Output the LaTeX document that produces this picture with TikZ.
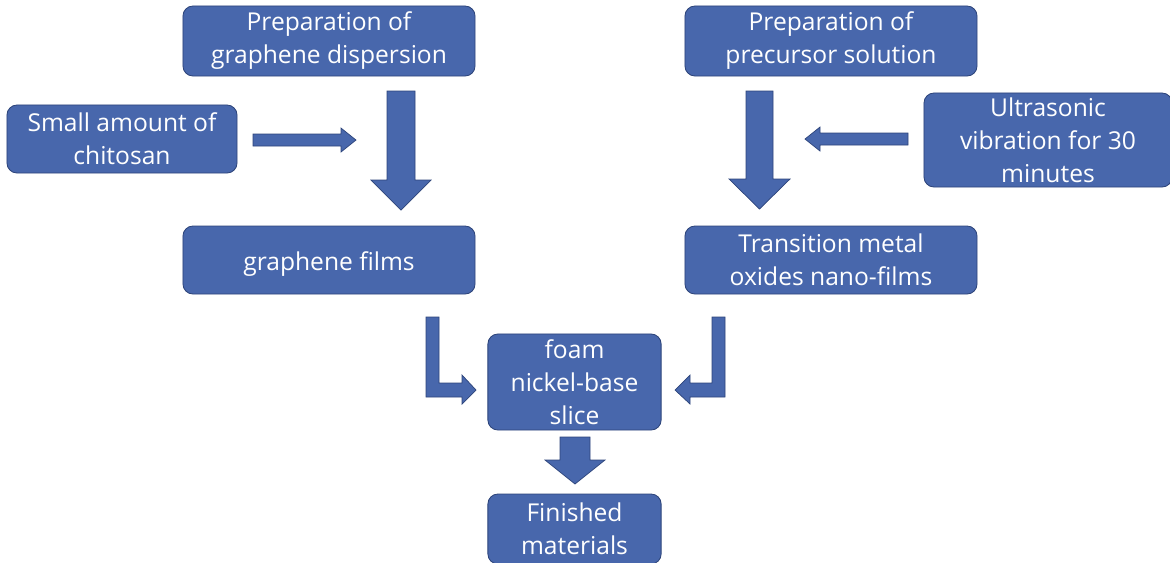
\documentclass[tikz,border=0pt]{standalone}
\usepackage{fontspec}
\setmainfont{Open Sans}
\begin{document}
\begin{tikzpicture}[x=0.025cm,y=-0.025cm]
        % Colori e stili
        \definecolor{boxblue}{RGB}{72,103,172}
        \definecolor{edgeblue}{RGB}{45,68,122}
        \tikzset{
            stepbox/.style={draw=edgeblue, fill=boxblue, rounded corners=0.25cm, text=white,
                align=center, font=\fontsize{17.5}{23.5}\selectfont, inner sep=0pt, line width=0.6pt,
                execute at begin node={\rule{0pt}{19pt}}},
            blockarrow/.style={draw=edgeblue, fill=boxblue, line width=0.5pt}
        }
        \useasboundingbox (0,0) rectangle (1170,562);

        % Riquadri in alto
        \node[stepbox, minimum width=7.3cm, minimum height=1.75cm] (graphdisp) at (329,41) {Preparation of\\graphene dispersion};
        \node[stepbox, minimum width=7.3cm, minimum height=1.75cm] (precsol) at (831,41) {Preparation of\\precursor solution};

        % Additivi laterali
        \node[stepbox, minimum width=5.75cm, minimum height=1.7cm] (chitosan) at (122,139) {Small amount of\\chitosan};
        \node[stepbox, minimum width=6.2cm, minimum height=2.35cm] (ultrasonic) at (1048,140) {Ultrasonic\\vibration for 30\\minutes};

        % Film
        \node[stepbox, minimum width=7.3cm, minimum height=1.7cm] (graphfilm) at (329,260) {graphene films};
        \node[stepbox, minimum width=7.3cm, minimum height=1.7cm] (oxfilm) at (831,260) {Transition metal\\oxides nano-films};

        % Base e prodotto finale
        \node[stepbox, minimum width=4.33cm, minimum height=2.4cm] (foam) at (574.5,382) {foam\\nickel-base\\slice};
        \node[stepbox, minimum width=4.33cm, minimum height=1.75cm] (finished) at (574.5,529) {Finished\\materials};

        % Frecce grandi verso il basso
        \draw[blockarrow] (387,91) -- (415,91) -- (415,180) -- (431,180) -- (401,210) -- (371,180) -- (387,180) -- cycle;
        \draw[blockarrow] (746,91) -- (773,91) -- (773,179) -- (790,179) -- (759.5,209) -- (729,179) -- (746,179) -- cycle;

        % Frecce laterali
        \draw[blockarrow] (253,134) -- (341,134) -- (341,128) -- (356,140) -- (341,152) -- (341,146) -- (253,146) -- cycle;
        \draw[blockarrow] (908,133) -- (820,133) -- (820,127) -- (805,139) -- (820,151) -- (820,145) -- (908,145) -- cycle;

        % Frecce a L verso la base
        \draw[blockarrow] (426,317) -- (439,317) -- (439,383) -- (462,383) -- (462,375) -- (476,390) -- (462,404) -- (462,397) -- (426,397) -- cycle;
        \draw[blockarrow] (712,317) -- (725,317) -- (725,397) -- (690,397) -- (690,404) -- (675,390) -- (690,375) -- (690,383) -- (712,383) -- cycle;

        % Freccia finale
        \draw[blockarrow] (560,437) -- (590,437) -- (590,460) -- (605,460) -- (575,484) -- (545,460) -- (560,460) -- cycle;

    \end{tikzpicture}
\end{document}
